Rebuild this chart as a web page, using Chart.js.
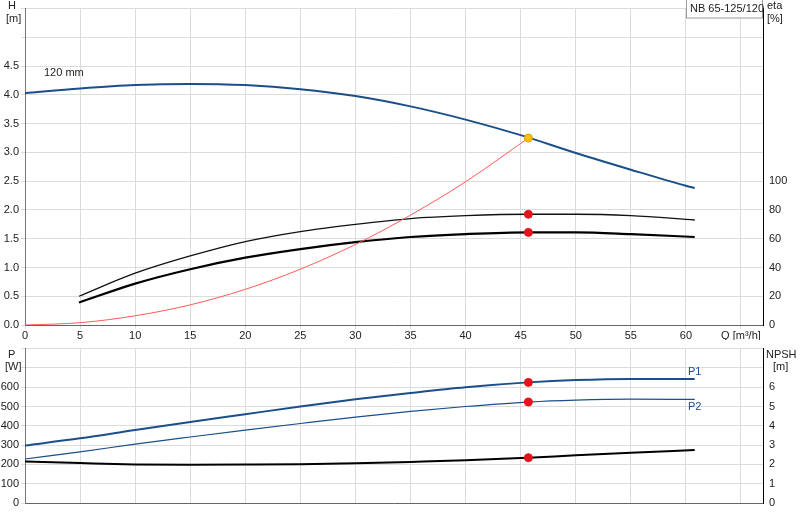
<!DOCTYPE html>
<html><head><meta charset="utf-8">
<script src="https://cdn.jsdelivr.net/npm/chart.js@4"></script>
<style>body{margin:0;background:#fff;width:800px;height:520px;position:relative;overflow:hidden}
canvas{position:absolute;left:0}</style></head>
<body>
<div style="position:absolute;left:0;top:0;width:800px;height:340px"><canvas id="c1"></canvas></div>
<div style="position:absolute;left:0;top:340px;width:800px;height:180px"><canvas id="c2"></canvas></div>
<script>
const qH=[0,5,10,15,20,25,30,35,40,45,50,55,60,60.8];
const H=[4.03,4.11,4.17,4.19,4.17,4.10,3.98,3.80,3.57,3.30,2.99,2.70,2.42,2.38];
const qE=[4.9,10,15,20,25,30,35,40,45.7,50,55,60.8];
const eta1=[20,36,48,58,65,70,74,76,77,77,76,73];
const eta2=[15.6,28.8,38.8,46.8,52.8,57.6,61.2,63.2,64.4,64.4,63.2,61.2];
const qS=[0,5,10,15,20,25,30,35,40,45.7];
const Hsys=[0,0.04,0.16,0.35,0.62,0.97,1.40,1.91,2.49,3.25];
const qP=[0,5,10,15,20,25,30,35,40,45.7,50,55,60.8];
const P1=[298,335,378,420,460,500,537,570,600,625,637,643,642];
const P2=[228,265,305,342,378,412,445,475,500,523,533,538,537];
const NPSH=[2.15,2.07,2.0,1.98,1.99,2.01,2.06,2.13,2.21,2.35,2.47,2.6,2.74];
const opQ=45.7, opH=3.25, opEta1=77, opEta2=64.4, opP1=625, opP2=523, opN=2.35;
const xy=(xs,ys)=>xs.map((x,i)=>({x,y:ys[i]}));
const blue='#1a4f8a';
const F={family:'Arial, Liberation Sans',size:11};
const fixW=(w)=>function(s){s.width=w;};
const fixH=(h)=>function(s){s.height=h;};
function texts(list){return {id:'t'+Math.random(),afterDraw(c){const x=c.ctx;x.save();
 for(const t of list){x.font=(t.s||11)+'px Arial, Liberation Sans';x.fillStyle=t.c||'#222';x.textAlign=t.a||'left';x.textBaseline='middle';
 x.fillText(t.t,t.x,t.y);}x.restore();}};}
const line=(data,color,w,axis,extra)=>Object.assign({data,showLine:true,borderColor:color,borderWidth:w,pointRadius:0,tension:0.4,cubicInterpolationMode:'monotone',fill:false,yAxisID:axis,order:2},extra||{});
const dot=(x,y,axis,col)=>({data:[{x,y}],yAxisID:axis,showLine:false,order:1,pointRadius:4,pointBackgroundColor:col||'#e8121b',pointBorderColor:col==='#ffc000'?'#e0a000':'#e8121b',pointBorderWidth:1});
const grid={color:'#dcdcdc',tickLength:4};
new Chart(document.getElementById('c1'),{type:'scatter',
data:{datasets:[
 dot(opQ,opH,'h','#ffc000'),
 dot(opQ,opEta1,'e'),dot(opQ,opEta2,'e'),
 line(xy(qH,H),blue,2,'h'),
 line(xy(qS,Hsys),'#ff5a5a',1,'h'),
 line(xy(qE,eta1),'#111',1.3,'e'),
 line(xy(qE,eta2),'#000',2.2,'e')]},
options:{animation:false,responsive:true,maintainAspectRatio:false,
 layout:{padding:{top:-6,left:0,right:0,bottom:0}},
 plugins:{legend:{display:false},tooltip:{enabled:false}},
 scales:{
  x:{type:'linear',min:0,max:67,afterFit:fixH(15),grid:grid,border:{color:'#666'},
   ticks:{font:F,color:'#222',padding:0,maxRotation:0,autoSkip:false,callback:v=>v===65?'Q [m³/h]':v},afterBuildTicks(s){s.ticks=[];for(let v=0;v<=65;v+=5)s.ticks.push({value:v});}},
  h:{position:'left',min:0,max:5.5,afterFit:fixW(25),grid:grid,border:{color:'#777'},
   ticks:{stepSize:0.5,font:F,color:'#222',padding:2,callback:v=>v<=4.5?v.toFixed(1):''}},
  e:{position:'right',min:0,max:220,afterFit:fixW(37),grid:{display:false,tickLength:4},border:{color:'#000'},
   ticks:{stepSize:20,font:F,color:'#222',padding:2,callback:v=>v<=100?v:''}}}},
plugins:[texts([{t:'H',x:8,y:6},{t:'[m]',x:6,y:19},{t:'eta',x:767,y:6},{t:'[%]',x:767,y:19},{t:'120 mm',x:44,y:73}]),
 {id:'box',afterDraw(c){const x=c.ctx;x.save();x.fillStyle='#fff';x.fillRect(686,0,76,18);x.strokeStyle='#999';x.lineWidth=1;x.strokeRect(686.5,-1,76,19);
 x.font='11px Arial, Liberation Sans';x.fillStyle='#222';x.textBaseline='middle';x.fillText('NB 65-125/120',690,9);x.restore();}}]});

new Chart(document.getElementById('c2'),{type:'scatter',
data:{datasets:[
 dot(opQ,opP1,'p'),dot(opQ,opP2,'p'),dot(opQ,opN,'n'),
 line(xy(qP,P1),blue,2,'p'),
 line(xy(qP,P2),blue,1.2,'p'),
 line(xy(qP,NPSH),'#000',2,'n')]},
options:{animation:false,responsive:true,maintainAspectRatio:false,
 layout:{padding:{top:4,bottom:0}},
 plugins:{legend:{display:false},tooltip:{enabled:false}},
 scales:{
  x:{type:'linear',min:0,max:67,afterFit:fixH(17),grid:{color:'#dcdcdc',tickLength:0},border:{color:'#666'},
   ticks:{display:false},afterBuildTicks(s){s.ticks=[];for(let v=0;v<=65;v+=5)s.ticks.push({value:v});}},
  p:{position:'left',min:0,max:800,afterFit:fixW(25),grid:grid,border:{color:'#777'},
   ticks:{stepSize:100,font:F,color:'#222',padding:2,callback:v=>v<=600?v:''}},
  n:{position:'right',min:0,max:8,afterFit:fixW(37),grid:{display:false,tickLength:4},border:{color:'#000'},
   ticks:{stepSize:1,font:F,color:'#222',padding:2,callback:v=>v<=6?v:''}}}},
plugins:[texts([{t:'P',x:8,y:15},{t:'[W]',x:5,y:27},{t:'NPSH',x:766,y:15},{t:'[m]',x:773,y:27},
 {t:'P1',x:688,y:32,c:blue},{t:'P2',x:688,y:67,c:blue}])]});
</script></body></html>
